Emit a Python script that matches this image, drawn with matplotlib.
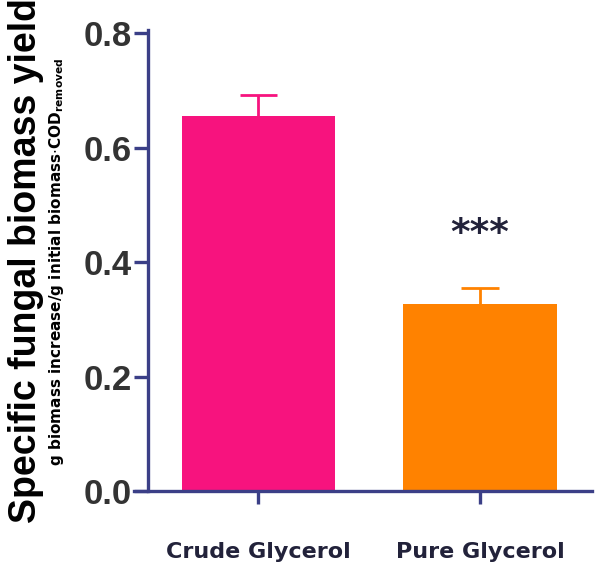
import matplotlib
matplotlib.use("Agg")
import matplotlib.pyplot as plt

categories = ["Crude Glycerol", "Pure Glycerol"]
values = [0.655, 0.327]
errors = [0.038, 0.028]
colors = ["#F7137E", "#FF8200"]
yticks = [0.0, 0.2, 0.4, 0.6, 0.8]
sig_label = "***"
sig_y = 0.45

W, H = 600, 566
fig = plt.figure(figsize=(W/100, H/100), dpi=100)
ax = fig.add_axes([134/W, (H-491)/H, (592-134)/W, (491-30)/H])

axis_col = "#3B3F87"
x = list(range(len(categories)))
ax.bar(x, values, width=0.69, color=colors, zorder=2)
cap = 0.167
for xi, v, e, c in zip(x, values, errors, colors):
    ax.vlines(xi, v, v + e, color=c, linewidth=2, zorder=3)
    ax.hlines(v + e, xi - cap/2, xi + cap/2, color=c, linewidth=2, zorder=3)

ax.set_xlim(-0.56, 1.505)
ax.set_ylim(0, 0.806)
ax.spines['top'].set_visible(False)
ax.spines['right'].set_visible(False)
ax.spines['left'].set_position(('data', -0.495))
for s in ['left', 'bottom']:
    ax.spines[s].set_color(axis_col)
    ax.spines[s].set_linewidth(2.4)
ax.spines['left'].set_bounds(0, 0.806)

ax.set_yticks(yticks)
ax.set_yticklabels([f"{t:.1f}" for t in yticks], fontsize=25, fontweight='bold', color='#333333', family='Liberation Sans')
ax.tick_params(axis='y', length=10, width=2.4, color=axis_col, pad=2)
ax.set_xticks(x)
ax.set_xticklabels(categories, fontsize=16, fontweight='bold', color='#22223A', family='DejaVu Sans')
ax.tick_params(axis='x', length=9, width=2.4, color=axis_col, pad=28)

ax.text(1, sig_y, sig_label, ha='center', va='center', fontsize=27, fontweight='bold', color='#22223A')

fig.text(26/W, 1 - 261/H, "Specific fungal biomass yield", rotation=90, ha='center', va='center',
         fontsize=27, fontweight='bold', family='Liberation Sans', color='black')
fig.text(57/W, 1 - 262/H, r"g biomass increase/g initial biomass$\cdot$COD$_{\mathregular{removed}}$", rotation=90,
         ha='center', va='center', fontsize=11, fontweight='bold', family='Liberation Sans Narrow', color='black')

fig.savefig("out.png", dpi=100)
